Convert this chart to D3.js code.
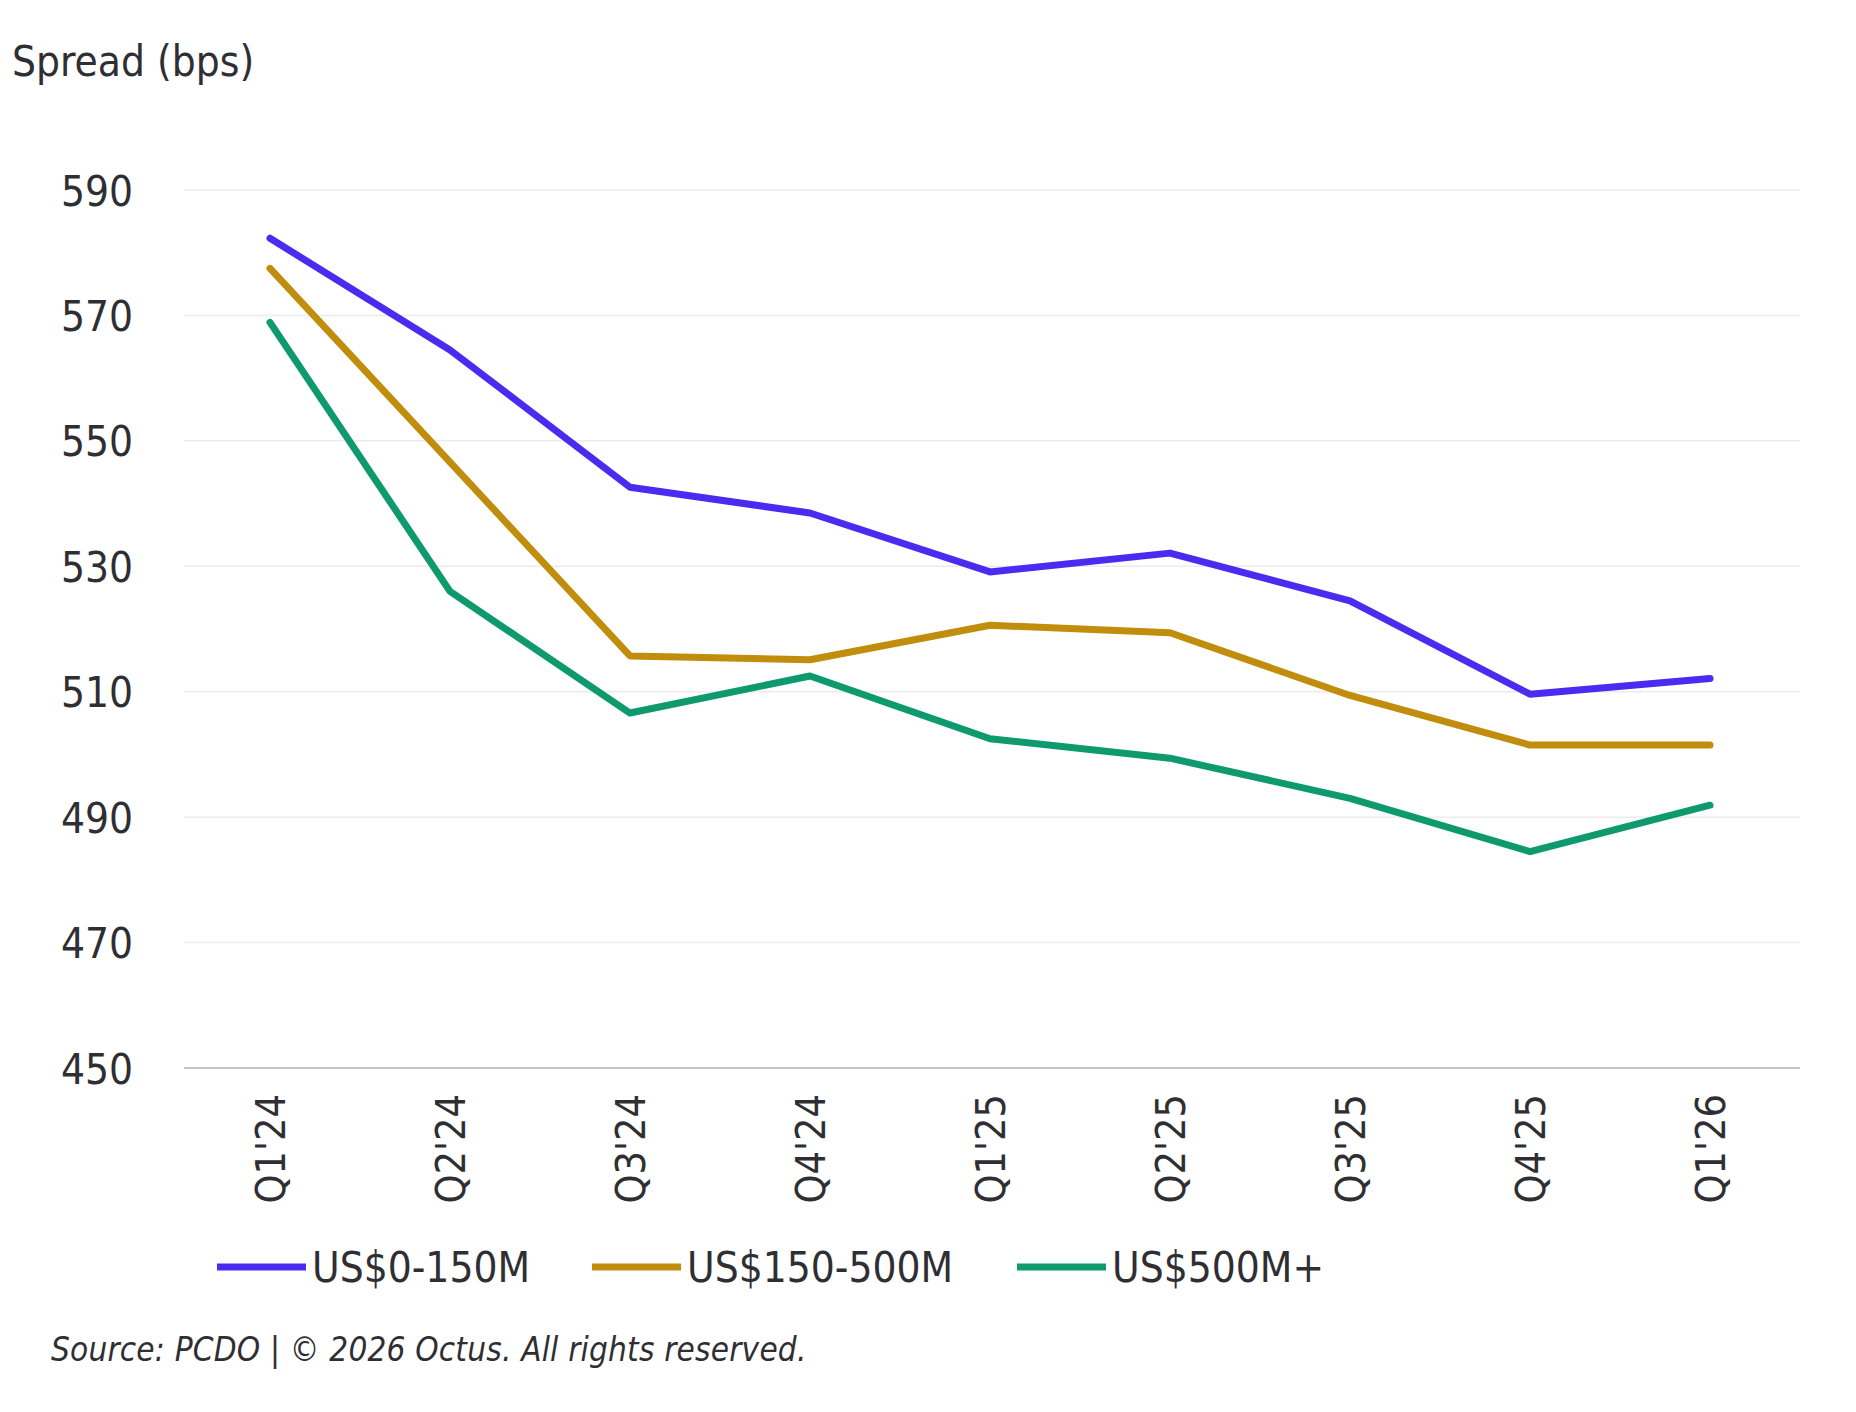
<!DOCTYPE html>
<html>
<head>
<meta charset="utf-8">
<script src="https://cdn.jsdelivr.net/npm/d3@7"></script>
<style>
  body { margin: 0; background: #fff; }
  svg { display: block; }
  text { font-family: "Liberation Sans Narrow", "DejaVu Sans Condensed", "Liberation Sans", sans-serif; fill: #2f2f33; }
</style>
</head>
<body>
<div id="chart"></div>
<script>
const quarters = ["Q1'24", "Q2'24", "Q3'24", "Q4'24", "Q1'25", "Q2'25", "Q3'25", "Q4'25", "Q1'26"];
const small = [582.3, 564.5, 542.6, 538.5, 529.1, 532.1, 524.5, 509.6, 512.1];
const mid = [577.5, 546.6, 515.7, 515.1, 520.6, 519.4, 509.4, 501.5, 501.5];
const large = [568.9, 526.0, 506.6, 512.5, 502.5, 499.4, 493.0, 484.5, 491.9];
const seriesNames = ["US$0-150M", "US$150-500M", "US$500M+"];
const yTicks = [450, 470, 490, 510, 530, 550, 570, 590];

const W = 1856, H = 1412;
const gridLeft = 184, gridRight = 1800, plotTop = 190, plotBottom = 1068;

const svg = d3.select("#chart").append("svg")
  .attr("width", W)
  .attr("height", H);

const x = d3.scalePoint().domain(quarters).range([270, 1710]);
const y = d3.scaleLinear().domain([450, 590]).range([plotBottom, plotTop]);
const color = d3.scaleOrdinal().domain(seriesNames).range(["#4a2cf0", "#c08d0c", "#0f9a6e"]);

// title
svg.append("text")
  .attr("x", 12)
  .attr("y", 76)
  .style("font-size", "42px")
  .text("Spread (bps)");

// gridlines
svg.append("g")
  .selectAll("line")
  .data(yTicks.filter(d => d !== 450))
  .join("line")
  .attr("x1", gridLeft).attr("x2", gridRight)
  .attr("y1", d => y(d)).attr("y2", d => y(d))
  .attr("stroke", "#ececec")
  .attr("stroke-width", 1.5);

// y axis labels
const yAxis = svg.append("g")
  .attr("transform", `translate(${gridLeft},0)`)
  .call(d3.axisLeft(y).tickValues(yTicks).tickSize(0).tickPadding(51));
yAxis.select(".domain").remove();
yAxis.selectAll("text")
  .style("font-size", "42px")
  .attr("fill", "#2f2f33")
  .attr("dy", "0.36em");

// x axis
const xAxis = svg.append("g")
  .attr("transform", `translate(0,${plotBottom})`)
  .call(d3.axisBottom(x).tickSize(0).tickPadding(0));
xAxis.select(".domain")
  .attr("d", `M${gridLeft},0H${gridRight}`)
  .attr("stroke", "#c4c4c8")
  .attr("stroke-width", 2);
xAxis.selectAll("text")
  .style("font-size", "41px")
  .attr("fill", "#2f2f33")
  .attr("text-anchor", "end")
  .attr("transform", "rotate(-90)")
  .attr("x", -26)
  .attr("y", 0)
  .attr("dy", "0.35em");

// lines
const series = [
  { name: seriesNames[0], values: small },
  { name: seriesNames[1], values: mid },
  { name: seriesNames[2], values: large }
];

const line = d3.line()
  .x((d, i) => x(quarters[i]))
  .y(d => y(d));

svg.append("g")
  .selectAll("path")
  .data(series)
  .join("path")
  .attr("d", d => line(d.values))
  .attr("fill", "none")
  .attr("stroke", d => color(d.name))
  .attr("stroke-width", 7)
  .attr("stroke-linecap", "round")
  .attr("stroke-linejoin", "round");

// legend
const legendX = [217, 592, 1017];
const legend = svg.append("g")
  .selectAll("g")
  .data(seriesNames)
  .join("g")
  .attr("transform", (d, i) => `translate(${legendX[i]},1267)`);
legend.append("line")
  .attr("x1", 0).attr("x2", 89)
  .attr("stroke", d => color(d))
  .attr("stroke-width", 7);
legend.append("text")
  .attr("x", 95)
  .attr("dy", "0.36em")
  .style("font-size", "42px")
  .text(d => d);

// source note
svg.append("text")
  .attr("x", 51)
  .attr("y", 1361)
  .style("font-size", "33px")
  .style("font-style", "italic")
  .style("letter-spacing", "0.2px")
  .text("Source: PCDO | \u00A9 2026 Octus. All rights reserved.");
</script>
</body>
</html>
